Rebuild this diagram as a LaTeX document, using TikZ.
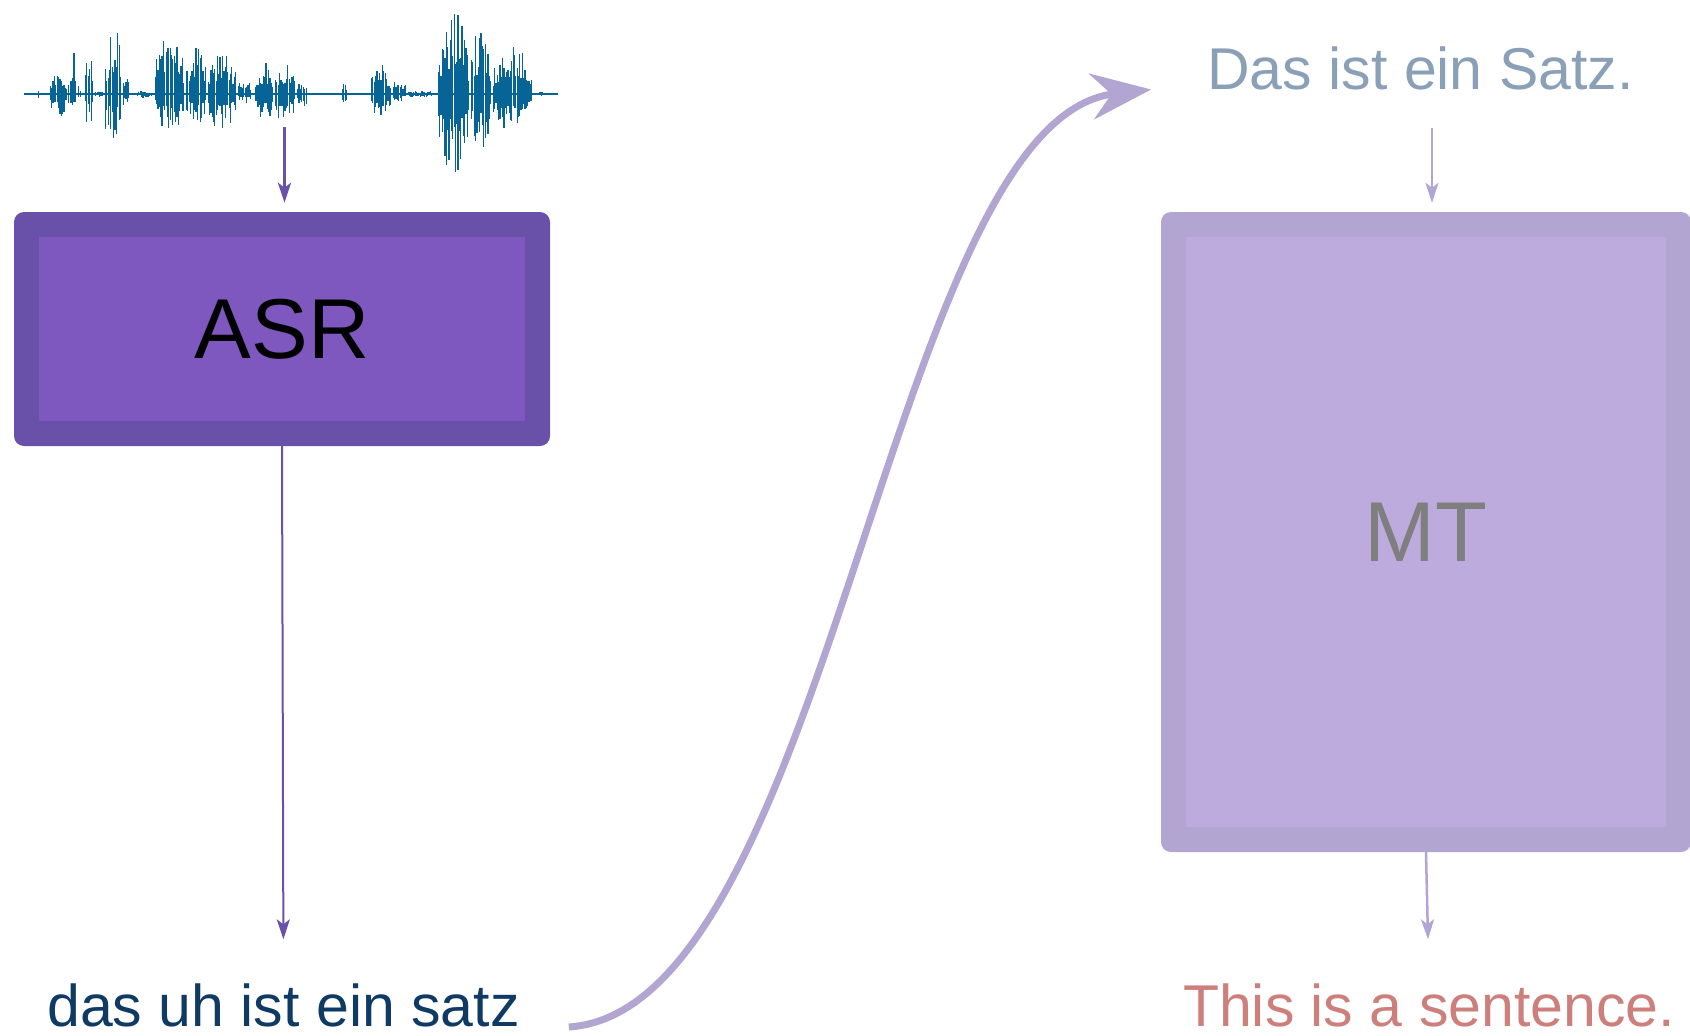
\documentclass[tikz,border=0pt]{standalone}
\usepackage{fontspec}
\setmainfont{Liberation Sans}
\usetikzlibrary{arrows.meta}

\definecolor{wavecol}{RGB}{6,101,150}
\definecolor{asrout}{RGB}{105,80,168}
\definecolor{asrin}{RGB}{127,88,191}
\definecolor{mtout}{RGB}{179,165,210}
\definecolor{mtin}{RGB}{190,171,222}
\definecolor{dastxt}{RGB}{14,58,99}
\definecolor{satztxt}{RGB}{137,160,182}
\definecolor{entxt}{RGB}{205,127,123}
\definecolor{mttxt}{RGB}{127,127,127}

\begin{document}
\begin{tikzpicture}[x=1pt,y=-1pt,
  wave/.style={draw=wavecol,line width=1.25pt},
  framedbox/.style 2 args={draw=none, fill=#1, rounded corners=10pt, inner sep=0pt,
    path picture={\fill[#2,sharp corners]
      ([shift={(25pt,-25pt)}]path picture bounding box.north west) rectangle
      ([shift={(-25pt,25pt)}]path picture bounding box.south east);}},
  sentence/.style={anchor=base, inner sep=0pt, font=\fontsize{59}{70}\selectfont},
  boxlabel/.style={font=\fontsize{85}{100}\selectfont},
  darkarrow/.style={draw=asrout, line width=#1, -{Stealth[length=20pt,width=13pt,inset=5pt]}},
  darkarrow/.default=2.5pt,
  lightarrow/.style={draw=mtout, line width=2.5pt, -{Stealth[length=20pt,width=13pt,inset=5pt]}},
  bigcurve/.style={draw=mtout, line width=7pt, -{Stealth[length=60pt,width=46pt,inset=20pt]}}
]
\useasboundingbox (0,0) rectangle (1690,1036);

% ---- speech waveform ----
\pgfmathsetseed{17}
\draw[wavecol, line width=2pt] (24,94) -- (558,94);
\foreach \a/\b/\u/\d in {
  37/40/5/4, 49/69.5/24/25, 69.5/77/46/27, 77/82/10/8, 84/94/44/32,
  94/104.5/3/3, 104/111/35/45, 108/122/72/45, 122/130/20/15, 136/152.5/4/4,
  154/185/57/40, 185/207/50/30, 207/237/45/37, 237/252/15/10,
  254/274/32/28, 274/296/32/30, 296/307.6/14/15, 341/348/14/10,
  370/392/33/25, 392/407/18/8, 407/433/4/4,
  437/470/84/83, 470/492/66/55, 492/533/50/40, 533/544/3/3}{
  \pgfmathtruncatemacro\n{(\b-\a)/1.3}
  \foreach \i in {0,...,\n}{
    \pgfmathsetmacro\x{\a+\i*(\b-\a)/\n}
    \pgfmathsetmacro\e{abs(sin(180*\i/\n))^0.35}
    \pgfmathsetmacro\yu{94-(0.3+0.7*rnd^1.5)*\e*\u}
    \pgfmathsetmacro\yd{94+(0.3+0.7*rnd^1.5)*\e*\d}
    \draw[wave] (\x,\yu) -- (\x,\yd);
  }
}
\coordinate (wavebot) at (284.5,127);

% ---- processing boxes ----
\node[framedbox={asrout}{asrin}, minimum width=536pt, minimum height=234pt,
      boxlabel, text=black] (asr) at (282,329) {ASR};
\node[framedbox={mtout}{mtin}, minimum width=530pt, minimum height=640pt,
      boxlabel, text=mttxt] (mt) at (1426,532) {MT};

% ---- sentences ----
\node[sentence, text=dastxt] (das) at (283.5,1026) {das uh ist ein satz};
\node[sentence, text=satztxt] (satz) at (1420.5,89.5) {Das ist ein Satz.};
\node[sentence, text=entxt] (en) at (1429,1026) {This is a sentence.};

% ---- connectors ----
\draw[darkarrow=3pt, shorten >=9pt] (wavebot) -- (wavebot |- asr.north);
\draw[darkarrow=2pt, shorten >=43.7pt] (asr.south) -- (das.north);
\draw[lightarrow, shorten <=37.5pt, shorten >=9pt]
  ([xshift=11.5pt]satz.south) -- ([xshift=6pt]mt.north);
\draw[lightarrow, shorten >=43.7pt] (mt.south) -- (en.north);
\draw[bigcurve] ([xshift=49pt,yshift=-1pt]das.base east)
  .. controls (830,1010) and (890,120) .. ([xshift=-56pt]satz.base west);
\end{tikzpicture}
\end{document}
